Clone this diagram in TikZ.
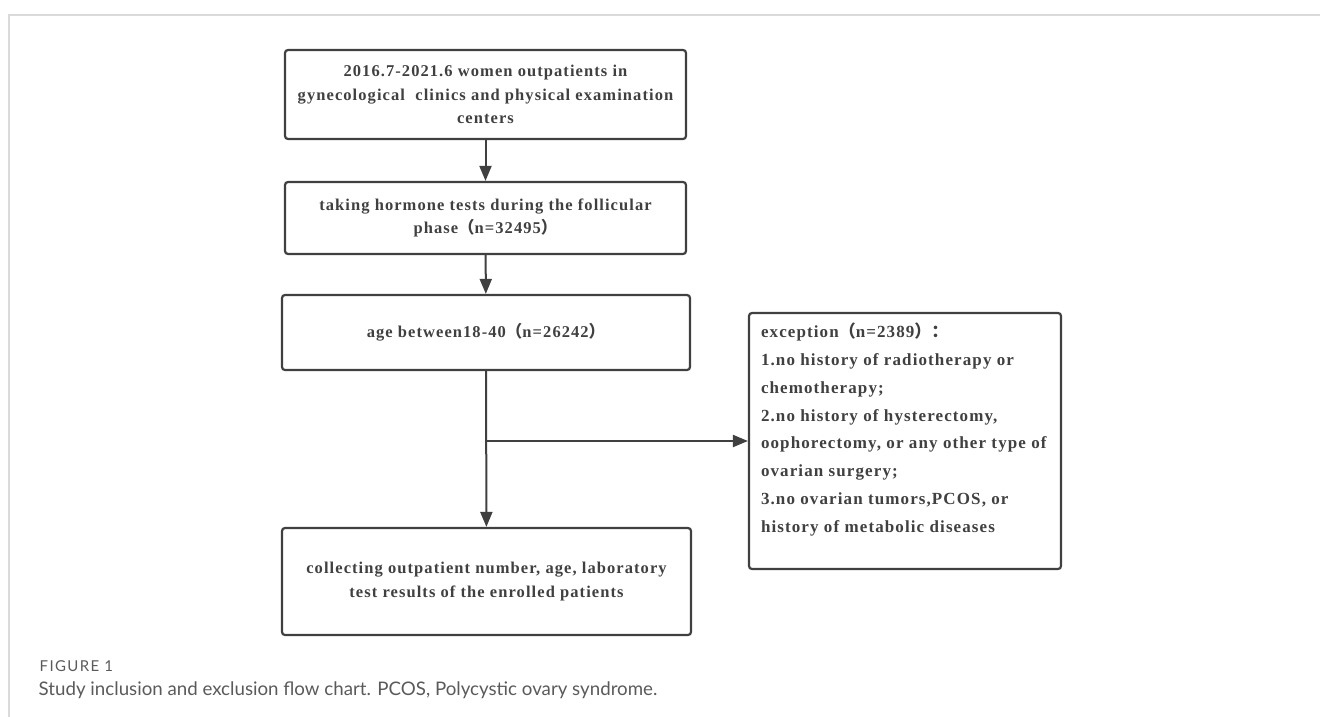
\documentclass[tikz,border=0pt]{standalone}
\usepackage{fontspec}
\setmainfont{Liberation Serif}[LetterSpace=6.5]
\newfontfamily\cjkf{Noto Sans CJK SC}
\newfontfamily\capf{Lato}
\newfontfamily\capfs{Lato}[LetterSpace=9]
\usetikzlibrary{arrows.meta}
\definecolor{ink}{HTML}{404040}
\definecolor{framec}{HTML}{DADADA}
\definecolor{capc}{HTML}{5A5A5A}
\newcommand{\lp}{{\cjkf （}}
\newcommand{\rp}{{\cjkf ）}}
\newcommand{\cc}{{\cjkf ：}}
\begin{document}
\begin{tikzpicture}[x=1pt,y=-1pt,
  flowbox/.style={draw=ink, line width=2.2pt, rounded corners=3pt, text=ink,
    font=\fontsize{16.5}{23.5}\selectfont\bfseries, align=center, inner sep=0pt},
  arr/.style={draw=ink, line width=2pt, -{Triangle[length=15pt,width=12pt]}},
  lin/.style={draw=ink, line width=2pt}]
\useasboundingbox (0,0) rectangle (1320,717);
\draw[framec, line width=2pt] (9,717) -- (9,15) -- (1320,15);

\node[flowbox, minimum width=401pt, minimum height=89pt] (b1) at (485.5,94.5)
  {2016.7-2021.6 women outpatients in\\gynecological\ \ clinics and physical examination\\centers};
\node[flowbox, minimum width=401pt, minimum height=72pt] (b2) at (485.5,218)
  {taking hormone tests during the follicular\\phase\lp n=32495\rp};
\node[flowbox, minimum width=408pt, minimum height=75pt] (b3) at (486,332.5)
  {age between18-40\lp n=26242\rp};
\node[flowbox, minimum width=409pt, minimum height=107pt] (b4) at (486.5,581.5)
  {collecting outpatient number, age, laboratory\\test results of the enrolled patients};
\node[flowbox, align=left, minimum width=312pt, minimum height=256pt, inner xsep=12pt, anchor=center] (b5) at (905,441)
  {\begin{minipage}[c][236pt][t]{288pt}\fontsize{17}{27.8}\selectfont\bfseries
  exception\lp n=2389\rp\cc\\
  1.no history of radiotherapy or\\
  chemotherapy;\\
  2.no history of hysterectomy,\\
  oophorectomy, or any other type of\\
  ovarian surgery;\\
  3.no ovarian tumors,PCOS, or\\
  history of metabolic diseases
  \end{minipage}};

\draw[arr] (b1) -- (b2);
\draw[arr] (b2) -- (b3);
\draw[arr] (b3) -- (b4);
\coordinate (j) at (486,441);
\draw[arr] (j) -- (b5.west);

\node[anchor=base west, text=capc, font=\capfs\fontsize{15}{17}\selectfont, inner sep=0pt] (cap1) at (39.5,671) {FIGURE 1};
\node[anchor=base west, text=capc, font=\capf\fontsize{18.7}{21}\selectfont, inner sep=0pt] (cap2) at (38.5,695) {Study inclusion and exclusion flow chart. PCOS, Polycystic ovary syndrome.};
\end{tikzpicture}
\end{document}
